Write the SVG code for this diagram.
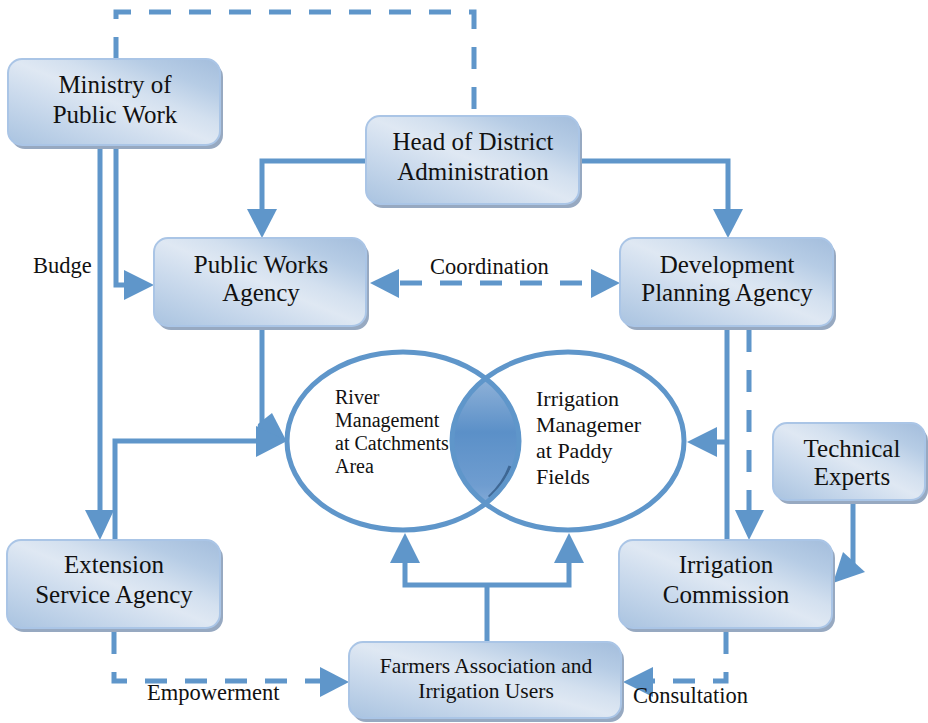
<svg xmlns="http://www.w3.org/2000/svg" width="928" height="723" viewBox="0 0 928 723">
<defs>
<linearGradient id="boxg" x1="0" y1="1" x2="1" y2="0">
<stop offset="0" stop-color="#a9c3e0"/>
<stop offset="0.3" stop-color="#c9d9ec"/>
<stop offset="0.5" stop-color="#dfe8f3"/>
<stop offset="0.62" stop-color="#d3e0ef"/>
<stop offset="0.8" stop-color="#b6cce5"/>
<stop offset="1" stop-color="#a3bddc"/>
</linearGradient>
<linearGradient id="lensg" x1="0" y1="0" x2="0" y2="1">
<stop offset="0" stop-color="#a9c2e0"/>
<stop offset="0.45" stop-color="#5b90c8"/>
<stop offset="0.75" stop-color="#6f9dd0"/>
<stop offset="1" stop-color="#9fbbdf"/>
</linearGradient>
<clipPath id="rightEll"><ellipse cx="568" cy="441" rx="116" ry="89"/></clipPath>
<style>
.shadow{fill:#97a9c1}
.box{fill:url(#boxg);stroke:#aac5e6;stroke-width:2}
.t{font-family:"Liberation Serif","Times New Roman",serif;font-size:25px;fill:#111;text-anchor:middle}
.s{font-family:"Liberation Serif","Times New Roman",serif;font-size:22.5px;fill:#111}
.e{font-family:"Liberation Serif","Times New Roman",serif;font-size:20px;fill:#111}
.r{font-family:"Liberation Serif","Times New Roman",serif;font-size:22px;fill:#111}
.ln{fill:none;stroke:#5f96ca;stroke-width:5}
.dash{fill:none;stroke:#5f96ca;stroke-width:5;stroke-dasharray:22 18}
.ah{fill:#5f96ca}
.ell{fill:none;stroke:#5f96ca;stroke-width:5}
</style>
</defs>
<rect width="928" height="723" fill="#fff"/>

<g id="connectors">
<path class="dash" d="M116,59 V12 H474 V116"/>
<path class="ln" d="M100,148 V512"/>
<polygon class="ah" points="85,510 114,510 100,540"/>
<path class="ln" d="M116,148 V285 H126"/>
<polygon class="ah" points="124,270 154,285 124,300"/>
<path class="ln" d="M366,161 H262 V212"/>
<polygon class="ah" points="247,209 277,209 262,238"/>
<path class="ln" d="M582,161 H728 V212"/>
<polygon class="ah" points="713,209 743,209 728,238"/>
<path class="dash" d="M400,283 H591"/>
<polygon class="ah" points="399,269 370,283 399,298"/>
<polygon class="ah" points="591,269 620,283 591,298"/>
<path class="ln" d="M262,330 V428"/>
<polygon class="ah" points="258,424 272,413 287,442 256,441"/>
<path class="ln" d="M115,540 V441 H258"/>
<polygon class="ah" points="256,426 287,441 256,457"/>
<path class="ln" d="M727,330 V540 M727,442 H715"/>
<polygon class="ah" points="717,427 687,442 717,457"/>
<path class="dash" d="M749,330 V512"/>
<polygon class="ah" points="735,510 764,510 749,540"/>
<path class="ln" d="M853,502 V565"/>
<polygon class="ah" points="843,552 865,572 833,583"/>
<path class="ln" d="M487,642 V585 M405,562 V585 H569 V562"/>
<polygon class="ah" points="390,563 420,563 405,533"/>
<polygon class="ah" points="554,563 584,563 569,533"/>
<path class="dash" d="M114,632 V681 H322"/>
<polygon class="ah" points="320,667 349,682 320,697"/>
<path class="dash" d="M726,632 V681 H651"/>
<polygon class="ah" points="653,667 623,682 653,697"/>
</g>

<g id="venn">
<ellipse cx="403" cy="441" rx="116" ry="89" fill="url(#lensg)" clip-path="url(#rightEll)"/>
<path d="M510,466 A113,86 0 0 1 489,497" fill="none" stroke="#2f5680" stroke-width="3" opacity="0.75"/>
<ellipse class="ell" cx="403" cy="441" rx="116" ry="89"/>
<ellipse class="ell" cx="568" cy="441" rx="116" ry="89"/>
<text class="e" x="335" y="404">River</text>
<text class="e" x="335" y="427">Management</text>
<text class="e" x="335" y="450">at Catchments</text>
<text class="e" x="335" y="473">Area</text>
<text class="r" x="536" y="406">Irrigation</text>
<text class="r" x="536" y="432">Managemer</text>
<text class="r" x="536" y="458">at Paddy</text>
<text class="r" x="536" y="484">Fields</text>
</g>

<g id="labels">
<text class="s" x="33" y="273">Budge</text>
<text class="s" x="430" y="274">Coordination</text>
<text class="s" x="147" y="700">Empowerment</text>
<text class="s" x="633" y="703">Consultation</text>
</g>

<g id="ministry">
<rect class="shadow" x="11" y="63" width="212" height="86" rx="14"/>
<rect class="box" x="8" y="59" width="212" height="86" rx="14"/>
<text class="t" x="115" y="93">Ministry of</text>
<text class="t" x="115" y="123">Public Work</text>
</g>
<g id="head">
<rect class="shadow" x="369" y="120" width="213" height="88" rx="14"/>
<rect class="box" x="366" y="116" width="213" height="88" rx="14"/>
<text class="t" x="473" y="150">Head of District</text>
<text class="t" x="473" y="180">Administration</text>
</g>
<g id="pwa">
<rect class="shadow" x="157" y="242" width="212" height="88" rx="14"/>
<rect class="box" x="154" y="238" width="212" height="88" rx="14"/>
<text class="t" x="261" y="273">Public Works</text>
<text class="t" x="261" y="301">Agency</text>
</g>
<g id="dpa">
<rect class="shadow" x="623" y="242" width="213" height="88" rx="14"/>
<rect class="box" x="620" y="238" width="213" height="88" rx="14"/>
<text class="t" x="727" y="273">Development</text>
<text class="t" x="727" y="301">Planning Agency</text>
</g>
<g id="extension">
<rect class="shadow" x="10" y="544" width="213" height="88" rx="14"/>
<rect class="box" x="7" y="540" width="213" height="88" rx="14"/>
<text class="t" x="114" y="573">Extension</text>
<text class="t" x="114" y="603">Service Agency</text>
</g>
<g id="commission">
<rect class="shadow" x="622" y="544" width="213" height="88" rx="14"/>
<rect class="box" x="619" y="540" width="213" height="88" rx="14"/>
<text class="t" x="726" y="573">Irrigation</text>
<text class="t" x="726" y="603">Commission</text>
</g>
<g id="technical">
<rect class="shadow" x="776" y="427" width="152" height="77" rx="14"/>
<rect class="box" x="773" y="423" width="152" height="77" rx="14"/>
<text class="t" x="852" y="457">Technical</text>
<text class="t" x="852" y="485">Experts</text>
</g>
<g id="farmers">
<rect class="shadow" x="352" y="646" width="272" height="76" rx="14"/>
<rect class="box" x="349" y="642" width="272" height="76" rx="14"/>
<text class="t" x="486" y="673" style="font-size:21.5px">Farmers Association and</text>
<text class="t" x="486" y="698" style="font-size:21.5px">Irrigation Users</text>
</g>
</svg>
